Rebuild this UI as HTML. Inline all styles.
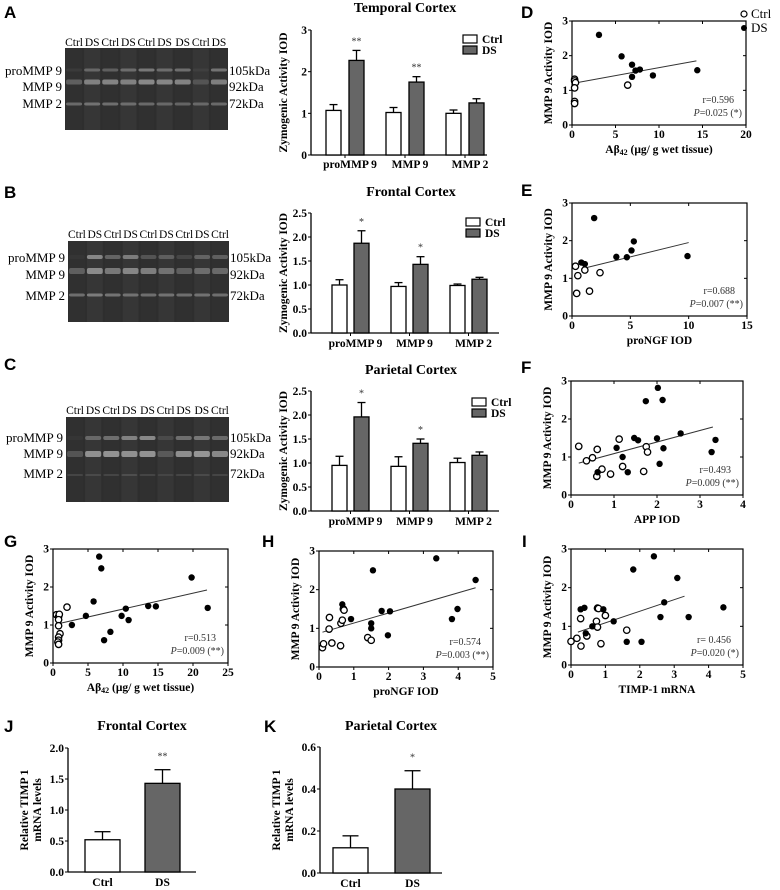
<!DOCTYPE html>
<html><head><meta charset="utf-8">
<style>
html,body{margin:0;padding:0;background:#fff;}
svg{display:block;font-family:"Liberation Serif",serif;}
.pl{font-family:"Liberation Sans",sans-serif;font-weight:bold;font-size:17px;}
.tk{font-size:11.5px;font-weight:bold;}
.at{font-size:11.5px;font-weight:bold;}
.ttl{font-size:14px;font-weight:bold;}
.gl{font-size:13px;}
.ln{font-size:11.5px;}
.st{font-size:10px;fill:#333;}
</style></head>
<body>
<svg id="fig" width="780" height="890" viewBox="0 0 780 890">
<g>
<text class="pl" x="4" y="18">A</text>
<text class="pl" x="4" y="198">B</text>
<text class="pl" x="4" y="370">C</text>
<text class="pl" x="521" y="18">D</text>
<text class="pl" x="521" y="196">E</text>
<text class="pl" x="521" y="373">F</text>
<text class="pl" x="4" y="547">G</text>
<text class="pl" x="262" y="547">H</text>
<text class="pl" x="522" y="547">I</text>
<text class="pl" x="4" y="732">J</text>
<text class="pl" x="264" y="732">K</text>
</g>
</svg>
<script>
// ---------- Bar chart data (A, B, C) ----------
const zymoCats = ["proMMP 9","MMP 9","MMP 2"];
const aCtrl = [1.07,1.02,1.0];
const aCtrlErr = [0.14,0.12,0.08];
const aDS = [2.27,1.75,1.25];
const aDSErr = [0.24,0.13,0.1];
const aSig = ["**","**",""];
const aTicks = [0,1,2,3];
const aTickLabels = ["0","1","2","3"];
const bCtrl = [1.0,0.97,0.99];
const bCtrlErr = [0.11,0.08,0.03];
const bDS = [1.87,1.43,1.12];
const bDSErr = [0.26,0.16,0.04];
const bSig = ["*","*",""];
const bcTicks = [0,0.5,1.0,1.5,2.0,2.5];
const bcTickLabels = ["0.0","0.5","1.0","1.5","2.0","2.5"];
const cCtrl = [0.95,0.93,1.01];
const cCtrlErr = [0.19,0.2,0.09];
const cDS = [1.96,1.41,1.16];
const cDSErr = [0.3,0.09,0.07];
const cSig = ["*","*",""];
// ---------- Scatter data ----------
const dCtrlX = [0.3,0.3,0.4,0.3,0.3,0.3,6.4];
const dCtrlY = [1.32,1.27,1.22,1.07,0.68,0.62,1.15];
const dDSX = [3.1,5.7,6.9,6.9,7.3,7.8,9.3,14.4];
const dDSY = [2.6,1.98,1.74,1.39,1.57,1.6,1.43,1.58];
const dFit = [0.5,1.22,14.3,1.85];
const dXTicks = [0,5,10,15,20];
const eCtrlX = [0.3,0.5,1.1,0.4,1.5,2.4];
const eCtrlY = [1.32,1.07,1.22,0.6,0.66,1.15];
const eDSX = [0.8,1.1,1.9,3.8,4.7,5.1,5.3,9.9];
const eDSY = [1.42,1.38,2.6,1.57,1.56,1.74,1.98,1.59];
const eFit = [0.8,1.25,10,1.95];
const eXTicks = [0,5,10,15];
const fCtrlX = [0.18,0.36,0.5,0.61,0.6,0.72,0.92,1.12,1.2,1.69,1.75,1.78];
const fCtrlY = [1.28,0.9,0.98,1.2,0.49,0.68,0.55,1.47,0.75,0.62,1.27,1.13];
const fDSX = [0.62,1.06,1.2,1.32,1.47,1.56,1.74,2.0,2.02,2.06,2.13,2.15,2.55,3.27,3.36];
const fDSY = [0.6,1.24,1.0,0.6,1.5,1.44,2.47,1.49,2.82,0.82,2.5,1.23,1.62,1.13,1.45];
const fFit = [0.18,0.84,3.3,1.79];
const fXTicks = [0,1,2,3,4];
const gCtrlX = [0.5,0.8,0.9,0.8,0.8,1.0,0.8,0.8,0.7,0.8,2.0];
const gCtrlY = [1.27,1.22,1.28,1.14,0.98,0.77,0.68,0.6,0.55,0.49,1.47];
const gDSX = [2.7,4.7,5.8,6.6,6.9,7.3,8.2,9.8,10.4,10.8,13.6,14.7,19.8,22.1];
const gDSY = [1.0,1.24,1.62,2.8,2.49,0.6,0.82,1.24,1.43,1.13,1.5,1.49,2.25,1.45];
const gFit = [0.9,1.04,22,1.92];
const gXTicks = [0,5,10,15,20,25];
const hCtrlX = [0.1,0.13,0.29,0.3,0.37,0.62,0.63,0.67,0.7,0.72,1.4,1.5];
const hCtrlY = [0.5,0.6,0.98,1.28,0.62,0.55,1.13,1.21,1.5,1.47,0.76,0.69];
const hDSX = [0.67,0.92,1.5,1.5,1.55,1.8,1.98,2.04,3.37,3.82,3.98,4.5];
const hDSY = [1.62,1.24,1.13,1.0,2.5,1.45,0.82,1.44,2.81,1.24,1.5,2.25];
const hFit = [0.1,0.9,4.5,2.05];
const hXTicks = [0,1,2,3,4,5];
const iCtrlX = [0.0,0.17,0.28,0.29,0.46,0.74,0.77,0.77,0.87,1.0,1.62,0.8];
const iCtrlY = [0.61,0.69,1.2,0.49,0.75,1.13,0.98,1.47,0.55,1.28,0.9,1.46];
const iDSX = [0.28,0.39,0.43,0.62,0.94,1.24,1.62,1.81,2.05,2.41,2.6,2.71,3.09,3.42,4.43];
const iDSY = [1.44,1.48,0.82,1.0,1.44,1.13,0.6,2.47,0.6,2.81,1.24,1.62,2.25,1.24,1.49];
const iFit = [0.2,0.85,3.3,1.78];
const iXTicks = [0,1,2,3,4,5];
const scatterYTicks = [0,1,2,3];
// ---------- J, K ----------
const timpCats = ["Ctrl","DS"];
const jVals = [0.52,1.43];
const jErr = [0.13,0.22];
const jSig = ["","**"];
const jTicks = [0,0.5,1.0,1.5,2.0];
const jTickLabels = ["0.0","0.5","1.0","1.5","2.0"];
const kVals = [0.12,0.40];
const kErr = [0.057,0.087];
const kSig = ["","*"];
const kTicks = [0,0.2,0.4,0.6];
const kTickLabels = ["0.0","0.2","0.4","0.6"];

const NS = "http://www.w3.org/2000/svg";
const fig = document.getElementById("fig");
function mk(tag, attrs, parent, name, inter) {
  const el = document.createElementNS(NS, tag);
  for (const k in attrs) el.setAttribute(k, attrs[k]);
  
  
  (parent || fig).appendChild(el);
  return el;
}
function txt(s, attrs, parent, name) {
  const t = mk("text", attrs, parent, name, false);
  t.textContent = s;
  return t;
}

// ---------- Gels ----------
function gel(id, x, y, w, h, lanes, bands, lblY, labY) {
  const g = mk("g", {}, fig, "gel-" + id, false);
  mk("rect", {x:x, y:y, width:w, height:h, fill:"#2e2e2e"}, g, "gel-background", false);
  const lw = w / lanes.length;
  lanes.forEach((l, i) => {
    txt(l, {x: x + lw*i + lw/2, y: lblY, "text-anchor":"middle", class:"ln"}, g, "lane-label");
    mk("rect", {x:x+lw*i+1, y:y, width:lw-2, height:h, fill:(i%2?"#363636":"#303030")}, g, "lane", false);
    bands.forEach(b => {
      const op = b.op[i] * 0.6;
      mk("rect", {x:x+lw*i+1, y:b.y-b.h/2, width:lw-2, height:b.h, fill:"#ddd", opacity:op, rx:2}, g, "band", false);
    });
  });
  const names = ["proMMP 9","MMP 9","MMP 2"];
  const kd = ["105kDa","92kDa","72kDa"];
  names.forEach((n, i) => {
    txt(n, {x:x-3, y:labY[i], "text-anchor":"end", class:"gl"}, g, "band-label");
    txt(kd[i], {x:x+w+1, y:labY[i], class:"gl"}, g, "kda-label");
  });
}
gel("a", 65, 48, 163, 82, ["Ctrl","DS","Ctrl","DS","Ctrl","DS","DS","Ctrl","DS"], [
  {y:70, h:3, op:[0.1,0.5,0.45,0.55,0.7,0.55,0.6,0.1,0.65]},
  {y:82, h:5, op:[0.45,0.75,0.8,0.75,0.85,0.8,0.8,0.3,0.75]},
  {y:104, h:3, op:[0.55,0.6,0.6,0.55,0.55,0.5,0.5,0.5,0.55]}], 46, [75,91,108]);
gel("b", 68, 241, 161, 81, ["Ctrl","DS","Ctrl","DS","Ctrl","DS","Ctrl","DS","Ctrl"], [
  {y:257, h:4, op:[0.05,0.8,0.5,0.7,0.35,0.4,0.2,0.45,0.45]},
  {y:271, h:6, op:[0.45,0.85,0.7,0.8,0.75,0.6,0.45,0.55,0.55]},
  {y:295, h:3, op:[0.6,0.7,0.65,0.6,0.6,0.6,0.6,0.6,0.6]}], 238, [262,279,300]);
gel("c", 66, 417, 163, 85, ["Ctrl","DS","Ctrl","DS","DS","Ctrl","DS","DS","Ctrl"], [
  {y:438, h:4, op:[0.05,0.5,0.6,0.75,0.85,0.2,0.6,0.65,0.55]},
  {y:454, h:6, op:[0.35,0.9,0.95,0.9,0.95,0.35,0.9,0.95,0.85]},
  {y:475, h:2, op:[0.2,0.2,0.2,0.25,0.2,0.15,0.2,0.2,0.2]}], 414, [442,458,478]);

// ---------- Grouped bar charts ----------
function groupBar(id, title, titleY, x0, x1, yBot, yTop, yMax, ticks, tickLabels, ctrl, ctrlErr, ds, dsErr, sig, firstX, step, bw, gap, catY, legX, legY) {
  const g = mk("g", {}, fig, "bar-chart-" + id, false);
  const sy = v => yBot - (v / yMax) * (yBot - yTop);
  txt(title, {x:(x0+x1)/2+6, y:titleY, "text-anchor":"middle", class:"ttl"}, g, "chart-title");
  mk("line", {x1:x0, y1:yTop, x2:x0, y2:yBot, stroke:"#000", "stroke-width":1.3}, g, "y-axis", false);
  mk("line", {x1:x0, y1:yBot, x2:x1, y2:yBot, stroke:"#000", "stroke-width":1.3}, g, "x-axis", false);
  ticks.forEach((t, i) => {
    mk("line", {x1:x0-3, y1:sy(t), x2:x0, y2:sy(t), stroke:"#000"}, g, "y-tick", false);
    txt(tickLabels[i], {x:x0-4, y:sy(t)+4, "text-anchor":"end", class:"tk"}, g, "y-tick-label");
  });
  txt("Zymogenic Activity IOD", {x:0, y:0, transform:`translate(${x0-24},${(yTop+yBot)/2}) rotate(-90)`, "text-anchor":"middle", class:"at"}, g, "y-axis-title");
  zymoCats.forEach((c, i) => {
    const cx = firstX + i*step;
    const dx = cx + bw + gap;
    const mid = (cx + dx + bw) / 2;
    [[ctrl[i], ctrlErr[i], cx, "#fff", "ctrl"], [ds[i], dsErr[i], dx, "#666", "ds"]].forEach(([v, e, bx, fill, s]) => {
      mk("line", {x1:bx+bw/2, y1:sy(v), x2:bx+bw/2, y2:sy(v+e), stroke:"#000", "stroke-width":1.3}, g, "error-bar", false);
      mk("line", {x1:bx+bw/2-4, y1:sy(v+e), x2:bx+bw/2+4, y2:sy(v+e), stroke:"#000", "stroke-width":1.3}, g, "error-cap", false);
      mk("rect", {x:bx, y:sy(v), width:bw, height:yBot-sy(v), fill:fill, stroke:"#000", "stroke-width":1.3}, g, "bar-" + s + "-" + (i+1), false);
    });
    if (sig[i]) txt(sig[i], {x:dx+bw/2, y:sy(ds[i]+dsErr[i])-6, "text-anchor":"middle", class:"st"}, g, "significance-marker");
    mk("line", {x1:mid, y1:yBot, x2:mid, y2:yBot+3, stroke:"#000"}, g, "x-tick", false);
    txt(c, {x:mid+5, y:catY, "text-anchor":"middle", class:"tk", "font-size":"13"}, g, "x-tick-label");
  });
  const lg = mk("g", {}, g, "legend", false);
  mk("rect", {x:legX, y:legY, width:14, height:8, fill:"#fff", stroke:"#000", "stroke-width":1.2}, lg, "legend-swatch-ctrl", false);
  txt("Ctrl", {x:legX+19, y:legY+8, class:"tk", "font-size":"12"}, lg, "legend-entry-ctrl");
  mk("rect", {x:legX, y:legY+11, width:14, height:8, fill:"#666", stroke:"#000", "stroke-width":1.2}, lg, "legend-swatch-ds", false);
  txt("DS", {x:legX+19, y:legY+19, class:"tk", "font-size":"12"}, lg, "legend-entry-ds");
}
groupBar("a", "Temporal Cortex", 12, 311, 487, 155, 30, 3, aTicks, aTickLabels, aCtrl, aCtrlErr, aDS, aDSErr, aSig, 326, 60, 15, 8, 168, 463, 35);
groupBar("b", "Frontal Cortex", 196, 311, 499, 333, 213, 2.5, bcTicks, bcTickLabels, bCtrl, bCtrlErr, bDS, bDSErr, bSig, 332, 59, 15, 7, 347, 466, 218);
groupBar("c", "Parietal Cortex", 374, 311, 499, 511, 391, 2.5, bcTicks, bcTickLabels, cCtrl, cCtrlErr, cDS, cDSErr, cSig, 332, 59, 15, 7, 525, 472, 398);

// ---------- Scatter plots ----------
function scatter(id, x0, x1, yBot, yTop, xMax, xTicks, cx, cy, dx, dy, fit, xTitle, r, p, sub) {
  const g = mk("g", {}, fig, "scatter-" + id, false);
  const sx = v => x0 + v / xMax * (x1 - x0);
  const sy = v => yBot - v / 3 * (yBot - yTop);
  mk("rect", {x:x0, y:yTop, width:x1-x0, height:yBot-yTop, fill:"none", stroke:"#000", "stroke-width":1.2}, g, "plot-frame", false);
  xTicks.forEach(t => {
    mk("line", {x1:sx(t), y1:yBot, x2:sx(t), y2:yBot+3, stroke:"#000"}, g, "x-tick", false);
    mk("line", {x1:sx(t), y1:yTop, x2:sx(t), y2:yTop+3, stroke:"#000"}, g, "x-tick-top", false);
    txt(String(t), {x:sx(t), y:yBot+13, "text-anchor":"middle", class:"tk", "font-size":"12"}, g, "x-tick-label");
  });
  scatterYTicks.forEach(t => {
    mk("line", {x1:x0-3, y1:sy(t), x2:x0, y2:sy(t), stroke:"#000"}, g, "y-tick", false);
    mk("line", {x1:x1-3, y1:sy(t), x2:x1, y2:sy(t), stroke:"#000"}, g, "y-tick-right", false);
    txt(String(t), {x:x0-4, y:sy(t)+3.5, "text-anchor":"end", class:"tk"}, g, "y-tick-label");
  });
  txt("MMP 9 Activity IOD", {x:0, y:0, transform:`translate(${x0-20},${(yTop+yBot)/2}) rotate(-90)`, "text-anchor":"middle", class:"at", "font-size":"12"}, g, "y-axis-title");
  const xt = txt("", {x:(x0+x1)/2, y:yBot+28, "text-anchor":"middle", class:"at", "font-size":"12"}, g, "x-axis-title");
  if (sub) {
    xt.textContent = "Aβ";
    const ts = mk("tspan", {"font-size":"8", dy:"2"}, xt, "subscript", false);
    ts.textContent = "42";
    const t2 = mk("tspan", {dy:"-2"}, xt, "x-title-rest", false);
    t2.textContent = " (μg/ g wet tissue)";
  } else xt.textContent = xTitle;
  mk("line", {x1:sx(fit[0]), y1:sy(fit[1]), x2:sx(fit[2]), y2:sy(fit[3]), stroke:"#333", "stroke-width":1}, g, "regression-line", false);
  cx.forEach((v, i) => {
    mk("circle", {cx:sx(v), cy:sy(cy[i]), r:3.2, fill:"#fff", stroke:"#000", "stroke-width":1.3}, g, "point-ctrl", false);
  });
  dx.forEach((v, i) => {
    mk("circle", {cx:sx(v), cy:sy(dy[i]), r:3.2, fill:"#000"}, g, "point-ds", false);
  });
  txt(r, {x:x1-12, y:yBot-22, "text-anchor":"end", class:"st", "font-size":"11"}, g, "r-value");
  const pt = txt("", {x:x1-4, y:yBot-9, "text-anchor":"end", class:"st", "font-size":"11"}, g, "p-value");
  const pi = mk("tspan", {"font-style":"italic"}, pt, "p-italic", false);
  pi.textContent = "P";
  const pr = mk("tspan", {}, pt, "p-rest", false);
  pr.textContent = p;
}
scatter("d", 572, 746, 125, 21, 20, dXTicks, dCtrlX, dCtrlY, dDSX, dDSY, dFit, "", "r=0.596", "=0.025 (*)", true);
scatter("e", 572, 747, 316, 203, 15, eXTicks, eCtrlX, eCtrlY, eDSX, eDSY, eFit, "proNGF IOD", "r=0.688", "=0.007 (**)", false);
scatter("f", 571, 743, 495, 381, 4, fXTicks, fCtrlX, fCtrlY, fDSX, fDSY, fFit, "APP IOD", "r=0.493", "=0.009 (**)", false);
scatter("g", 53, 228, 663, 549, 25, gXTicks, gCtrlX, gCtrlY, gDSX, gDSY, gFit, "", "r=0.513", "=0.009 (**)", true);
scatter("h", 319, 493, 667, 551, 5, hXTicks, hCtrlX, hCtrlY, hDSX, hDSY, hFit, "proNGF IOD", "r=0.574", "=0.003 (**)", false);
scatter("i", 571, 743, 665, 549, 5, iXTicks, iCtrlX, iCtrlY, iDSX, iDSY, iFit, "TIMP-1 mRNA", "r= 0.456", "=0.020 (*)", false);
// scatter legend
const sl = mk("g", {}, fig, "scatter-legend", false);
mk("circle", {cx:744, cy:14, r:3, fill:"#fff", stroke:"#000", "stroke-width":1.2}, sl, "legend-marker-ctrl", false);
txt("Ctrl", {x:751, y:18, class:"gl", "font-size":"11.5"}, sl, "legend-entry-ctrl");
mk("circle", {cx:744, cy:28, r:3, fill:"#000"}, sl, "legend-marker-ds", false);
txt("DS", {x:751, y:32, class:"gl", "font-size":"11.5"}, sl, "legend-entry-ds");

// ---------- Simple bar charts J, K ----------
function simpleBar(id, title, x0, x1, yBot, yTop, yMax, ticks, tickLabels, vals, errs, sig, barX, bw) {
  const g = mk("g", {}, fig, "bar-chart-" + id, false);
  const sy = v => yBot - v / yMax * (yBot - yTop);
  txt(title, {x:(x0+x1)/2+10, y:730, "text-anchor":"middle", class:"ttl"}, g, "chart-title");
  mk("line", {x1:x0, y1:yTop, x2:x0, y2:yBot, stroke:"#000", "stroke-width":1.3}, g, "y-axis", false);
  mk("line", {x1:x0, y1:yBot, x2:x1, y2:yBot, stroke:"#000", "stroke-width":1.3}, g, "x-axis", false);
  ticks.forEach((t, i) => {
    mk("line", {x1:x0-3, y1:sy(t), x2:x0, y2:sy(t), stroke:"#000"}, g, "y-tick", false);
    txt(tickLabels[i], {x:x0-4, y:sy(t)+4, "text-anchor":"end", class:"tk", "font-size":"12.5"}, g, "y-tick-label");
  });
  const yt = txt("", {x:0, y:0, transform:`translate(${x0-40},${(yTop+yBot)/2}) rotate(-90)`, "text-anchor":"middle", class:"at", "font-size":"12.5"}, g, "y-axis-title");
  const l1 = mk("tspan", {x:0, dy:0}, yt, "y-title-line1", false);
  l1.textContent = "Relative TIMP 1";
  const l2 = mk("tspan", {x:0, dy:13}, yt, "y-title-line2", false);
  l2.textContent = "mRNA levels";
  timpCats.forEach((c, i) => {
    const bx = barX[i];
    mk("line", {x1:bx+bw/2, y1:sy(vals[i]), x2:bx+bw/2, y2:sy(vals[i]+errs[i]), stroke:"#000", "stroke-width":1.3}, g, "error-bar", false);
    mk("line", {x1:bx+bw/2-8, y1:sy(vals[i]+errs[i]), x2:bx+bw/2+8, y2:sy(vals[i]+errs[i]), stroke:"#000", "stroke-width":1.3}, g, "error-cap", false);
    mk("rect", {x:bx, y:sy(vals[i]), width:bw, height:yBot-sy(vals[i]), fill:(i ? "#666" : "#fff"), stroke:"#000", "stroke-width":1.3}, g, "bar-" + c.toLowerCase(), false);
    if (sig[i]) txt(sig[i], {x:bx+bw/2, y:sy(vals[i]+errs[i])-10, "text-anchor":"middle", class:"st"}, g, "significance-marker");
    txt(c, {x:bx+bw/2, y:yBot+14, "text-anchor":"middle", class:"tk", "font-size":"13"}, g, "x-tick-label");
  });
}
simpleBar("j", "Frontal Cortex", 68, 196, 872, 748, 2.0, jTicks, jTickLabels, jVals, jErr, jSig, [85, 145], 35);
simpleBar("k", "Parietal Cortex", 320, 442, 873, 747, 0.6, kTicks, kTickLabels, kVals, kErr, kSig, [333, 395], 35);
</script>
</body></html>
